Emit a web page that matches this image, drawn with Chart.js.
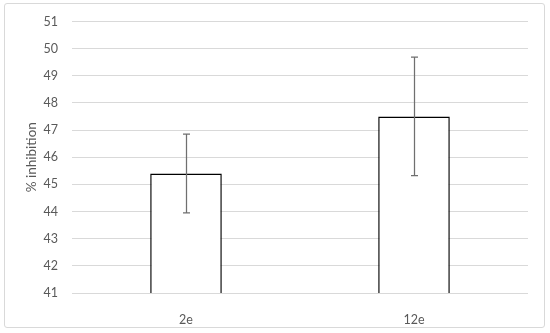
<!DOCTYPE html>
<html>
<head>
<meta charset="utf-8">
<script src="https://cdn.jsdelivr.net/npm/chart.js@4"></script>
<style>
  html, body { margin: 0; padding: 0; background: #fff; }
  #wrap { position: relative; width: 550px; height: 333px; }
  #frame {
    position: absolute; left: 4px; top: 3px; width: 539px; height: 323px;
    border: 1px solid #d9d9d9; border-radius: 3px;
  }
  canvas { position: absolute; left: 0; top: 0; }
</style>
</head>
<body>
<div id="wrap">
  <div id="frame"></div>
  <canvas id="graph" width="550" height="333"></canvas>
</div>
<script>
// Chart data
const categories = ['2e', '12e'];
const values = [45.4, 47.5];
const errLow = [43.95, 45.32];
const errHigh = [46.85, 49.69];

// Draws the error bars from the y scale
const errorBars = {
  id: 'errorBars',
  afterDatasetsDraw(chart) {
    const ctx = chart.ctx;
    const yScale = chart.scales.y;
    const meta = chart.getDatasetMeta(0);
    ctx.save();
    ctx.strokeStyle = '#6f6f6f';
    ctx.lineWidth = 1.25;
    meta.data.forEach((bar, i) => {
      const x = Math.round(bar.x) + 0.5;
      const yLo = yScale.getPixelForValue(errLow[i]);
      const yHi = yScale.getPixelForValue(errHigh[i]);
      ctx.beginPath();
      ctx.moveTo(x, yLo);
      ctx.lineTo(x, yHi);
      ctx.moveTo(x - 3.5, yLo);
      ctx.lineTo(x + 3.5, yLo);
      ctx.moveTo(x - 3.5, yHi);
      ctx.lineTo(x + 3.5, yHi);
      ctx.stroke();
    });
    ctx.restore();
  }
};

const ctx = document.getElementById('graph').getContext('2d');
const chart = new Chart(ctx, {
  type: 'bar',
  data: {
    labels: categories,
    datasets: [{
      data: values,
      backgroundColor: '#ffffff',
      borderColor: '#000000',
      borderWidth: 1.5,
      categoryPercentage: 1,
      barPercentage: 0.314
    }]
  },
  plugins: [errorBars],
  options: {
    responsive: false,
    animation: false,
    layout: {
      padding: { top: 20, right: 22, left: 0, bottom: 0 }
    },
    scales: {
      x: {
        grid: { display: false },
        border: { display: false },
        ticks: { color: '#595959', font: { family: 'Lato', size: 12.5 }, padding: 11 },
        afterFit: scale => { scale.height = 40; }
      },
      y: {
        min: 41,
        max: 51,
        grid: { color: '#d9d9d9', lineWidth: 1, drawTicks: false },
        border: { display: false },
        ticks: { stepSize: 1, color: '#595959', font: { family: 'Lato', size: 12.5 }, padding: 14 },
        title: {
          display: true,
          text: '% inhibition',
          color: '#595959',
          font: { family: 'Lato', size: 13.5 },
          padding: { top: 24, bottom: 0 }
        },
        afterFit: scale => { scale.width = 72; }
      }
    },
    plugins: {
      legend: { display: false },
      tooltip: { enabled: false }
    }
  }
});
</script>
</body>
</html>
